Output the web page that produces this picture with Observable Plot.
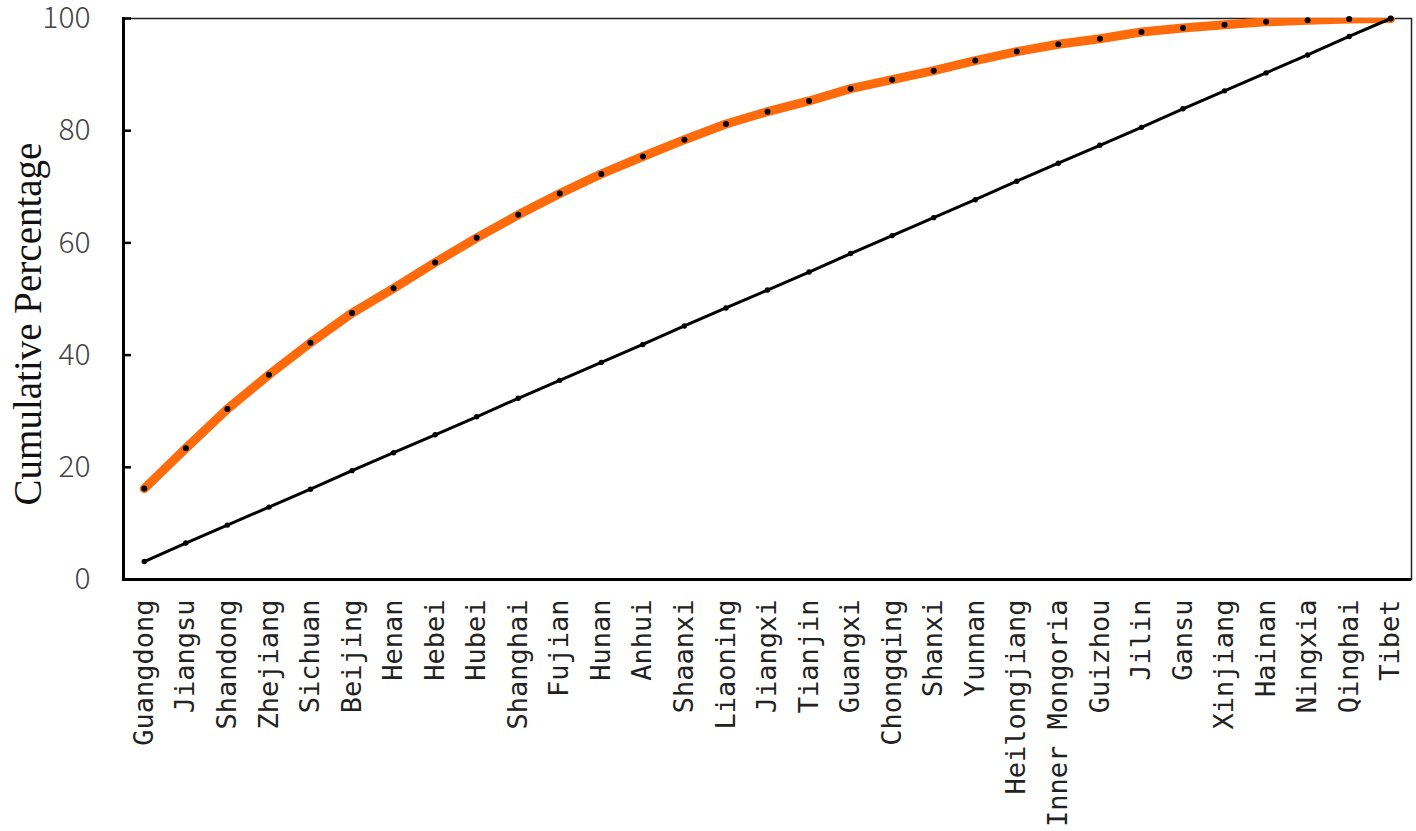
<!DOCTYPE html>
<html>
<head>
<meta charset="utf-8">
<script src="https://cdn.jsdelivr.net/npm/d3@7"></script>
<script src="https://cdn.jsdelivr.net/npm/@observablehq/plot@0.6"></script>
<style>
  html, body { margin: 0; padding: 0; background: #fff; }
  #chart svg { display: block; }
</style>
</head>
<body>
<div id="chart"></div>
<script>
const provinces = ["Guangdong","Jiangsu","Shandong","Zhejiang","Sichuan","Beijing","Henan","Hebei","Hubei","Shanghai","Fujian","Hunan","Anhui","Shaanxi","Liaoning","Jiangxi","Tianjin","Guangxi","Chongqing","Shanxi","Yunnan","Heilongjiang","Inner Mongoria","Guizhou","Jilin","Gansu","Xinjiang","Hainan","Ningxia","Qinghai","Tibet"];
const cumulativeShare = [16.2, 23.4, 30.4, 36.5, 42.2, 47.5, 51.9, 56.5, 60.9, 65.0, 68.8, 72.3, 75.4, 78.4, 81.2, 83.4, 85.3, 87.5, 89.1, 90.7, 92.5, 94.1, 95.4, 96.4, 97.6, 98.3, 98.9, 99.4, 99.7, 99.9, 100];
const equalityLine = [3.2, 6.5, 9.7, 12.9, 16.1, 19.4, 22.6, 25.8, 29.0, 32.3, 35.5, 38.7, 41.9, 45.2, 48.4, 51.6, 54.8, 58.1, 61.3, 64.5, 67.7, 71.0, 74.2, 77.4, 80.6, 83.9, 87.1, 90.3, 93.5, 96.8, 100];
const yTicks = [0, 20, 40, 60, 80, 100];
const yLabel = "Cumulative Percentage";

const share = provinces.map((p, i) => ({province: p, value: cumulativeShare[i]}));
const equal = provinces.map((p, i) => ({province: p, value: equalityLine[i]}));

const chart = Plot.plot({
  width: 1416,
  height: 831,
  marginLeft: 123,
  marginRight: 5,
  marginTop: 18,
  marginBottom: 252,
  style: {background: "#fff", overflow: "visible"},
  x: {type: "point", domain: provinces, padding: 0.5, round: false},
  y: {domain: [0, 100]},
  marks: [
    Plot.frame({stroke: "#222", strokeWidth: 1.5}),
    Plot.lineY(share, {x: "province", y: "value", stroke: "#ff6a0a", strokeWidth: 9, clip: "frame"}),
    Plot.lineY(equal, {x: "province", y: "value", stroke: "#000", strokeWidth: 3}),
    Plot.dot(share, {x: "province", y: "value", r: 3, fill: "#000"}),
    Plot.dot(equal, {x: "province", y: "value", r: 2.7, fill: "#000"}),
    Plot.ruleY([0], {stroke: "#000", strokeWidth: 3}),
    Plot.frame({anchor: "left", stroke: "#000", strokeWidth: 3}),
    Plot.axisY(yTicks, {tickSize: -8, tickPadding: 41, fontSize: 30, fontFamily: "'Noto Sans CJK JP', 'Noto Sans', sans-serif", fontWeight: 300, fill: "#444", stroke: "#000", strokeWidth: 2.5, label: null}),
    Plot.axisX({tickRotate: -90, tickSize: 0, tickPadding: 20, fontSize: 27, fontFamily: "'DejaVu Sans Mono', monospace", fill: "#222", label: null}),
    Plot.text([yLabel], {frameAnchor: "left", textAnchor: "middle", rotate: -90, dx: -95, dy: 25, fontSize: 39, fontFamily: "'Liberation Serif', serif", fill: "#111"})
  ]
});
document.getElementById("chart").appendChild(chart);
</script>
</body>
</html>
